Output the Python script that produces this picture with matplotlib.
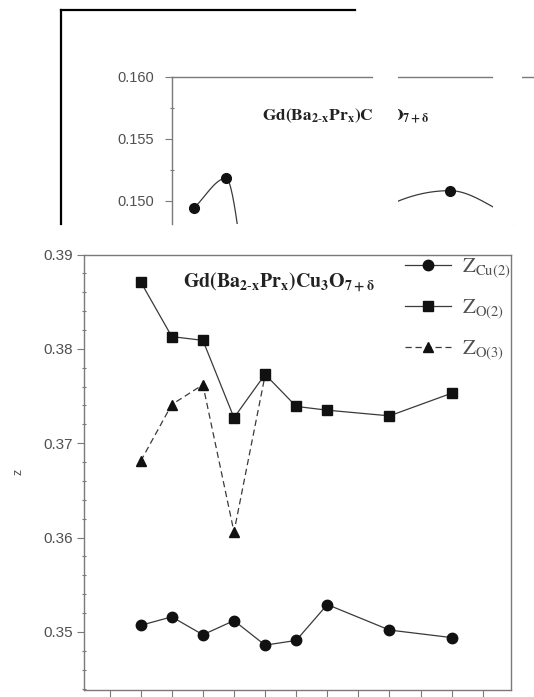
import numpy as np
import matplotlib
matplotlib.use("Agg")
from matplotlib import pyplot as plt
from matplotlib.lines import Line2D
from matplotlib.patches import Rectangle
from matplotlib.ticker import MultipleLocator

plt.rcParams['font.family'] = ['Liberation Sans', 'DejaVu Sans']
plt.rcParams['mathtext.fontset'] = 'stix'

# composition x values
x_pr = [0.0, 0.1, 0.2, 0.3, 0.4, 0.5, 0.6, 0.8, 1.0]

# main panel: z coordinates
z_cu2 = [0.3507, 0.3516, 0.3497, 0.3512, 0.3486, 0.3491, 0.3529, 0.3502, 0.3494]
z_o2 = [0.3871, 0.3813, 0.3809, 0.3727, 0.3773, 0.3739, 0.3735, 0.3729, 0.3753]
x_o3 = [0.0, 0.1, 0.2, 0.3, 0.4]
z_o3 = [0.3681, 0.3741, 0.3762, 0.3606, 0.3772]

# upper (partly covered) panel
z_upper = [0.1494, 0.1518, 0.1380, 0.1365, 0.1370, 0.1420, 0.1495, 0.1508, 0.1486]
upper_ticks = [0.150, 0.155, 0.160]
main_ticks = [0.35, 0.36, 0.37, 0.38, 0.39]

title = r'$\mathbf{Gd(Ba_{2\text{-}x}Pr_x)Cu_3O_{7+\delta}}$'
labels = [r'$\mathrm{Z_{Cu(2)}}$', r'$\mathrm{Z_{O(2)}}$', r'$\mathrm{Z_{O(3)}}$']

W, H = 534, 697
spine_c = '#7a7a7a'
text_c = '#505050'
mark_c = '#111111'
line_c = '#3a3a3a'


def box(left, top, right, bottom):  # pixel box -> figure fraction rect
    return [left / W, 1 - bottom / H, (right - left) / W, (bottom - top) / H]


def pchip(x, y, xs):  # monotone cubic through the points
    x = np.asarray(x, float)
    y = np.asarray(y, float)
    h = np.diff(x)
    d = np.diff(y) / h
    m = np.zeros_like(y)
    for k in range(1, len(x) - 1):
        if d[k - 1] * d[k] > 0:
            w1 = 2 * h[k] + h[k - 1]
            w2 = h[k] + 2 * h[k - 1]
            m[k] = (w1 + w2) / (w1 / d[k - 1] + w2 / d[k])
    m[0], m[-1] = d[0], d[-1]
    i = np.clip(np.searchsorted(x, xs) - 1, 0, len(h) - 1)
    t = (xs - x[i]) / h[i]
    return (y[i] * (1 - 3 * t**2 + 2 * t**3) + h[i] * m[i] * (t - 2 * t**2 + t**3)
            + y[i + 1] * (3 * t**2 - 2 * t**3) + h[i] * m[i + 1] * (t**3 - t**2))


def style_axes(ax, fs):
    for s in ax.spines.values():
        s.set_color(spine_c)
        s.set_linewidth(1.0)
    ax.tick_params(which='both', colors=spine_c, labelcolor=text_c, labelsize=fs, width=0.8)
    ax.tick_params(which='major', length=5, direction='out', pad=3)
    ax.tick_params(which='minor', length=3, direction='inout')


fig = plt.figure(figsize=(W / 100, H / 100), dpi=100)

# upper panel
up = fig.add_axes(box(172, 77, 534, 224))
xs = np.linspace(0, 1.0, 400)
up.plot(xs, pchip(x_pr, z_upper, xs), color=line_c, lw=0.9)
up.plot(x_pr, z_upper, 'o', color=mark_c, ms=7, clip_on=True)
up.set_xlim(-0.06875, 1.0625)
up.set_ylim(0.1481, 0.160)
up.set_yticks(upper_ticks)
up.set_yticklabels(['%.3f' % v for v in upper_ticks])
up.yaxis.set_minor_locator(MultipleLocator(0.0025))
up.set_xticks([])
up.spines['right'].set_visible(False)
up.spines['bottom'].set_visible(False)
style_axes(up, 10.5)
up.tick_params(which='major', pad=8)
fig.text(262 / W, 1 - 116 / H, title, fontsize=12.5, ha='left', va='center', color='#222222')

# main panel
ax = fig.add_axes(box(84, 254.5, 511, 689.5))
ax.plot(x_o3, z_o3, color=line_c, lw=0.9, ls=(0, (5, 3)), marker='^', ms=7,
        mfc=mark_c, mec=mark_c, label=labels[2], zorder=2)
ax.plot(x_pr, z_o2, color=line_c, lw=0.9, marker='s', ms=6.5,
        mfc=mark_c, mec=mark_c, label=labels[1], zorder=3)
ax.plot(x_pr, z_cu2, color=line_c, lw=0.9, marker='o', ms=7.5,
        mfc=mark_c, mec=mark_c, label=labels[0], zorder=4)
ax.set_xlim(-0.1823, 1.1907)
ax.set_ylim(0.3439, 0.39)
ax.set_yticks(main_ticks)
ax.set_yticklabels(['%.2f' % v for v in main_ticks])
ax.yaxis.set_minor_locator(MultipleLocator(0.002))
ax.set_xticks(np.arange(-0.1, 1.15, 0.1))
ax.set_xticklabels([])
style_axes(ax, 11)
ax.text(183 / W, 1 - 282 / H, title, transform=fig.transFigure, fontsize=14.3,
        ha='left', va='center', color='#222222')
handles, labs = ax.get_legend_handles_labels()
ax.legend(handles[::-1], labs[::-1], loc='upper left', bbox_to_anchor=(405 / W, 1 - 256 / H),
          bbox_transform=fig.transFigure, frameon=False, fontsize=15, handlelength=2.2,
          handletextpad=0.55, labelspacing=0.85, borderpad=0, borderaxespad=0,
          labelcolor=text_c)
fig.text(18 / W, 1 - 472 / H, 'z', rotation=90, fontsize=9, color=text_c,
         ha='center', va='center')

# scan border lines and blank strips over the upper panel
fig.add_artist(Line2D([61 / W, 61 / W], [1 - 10 / H, 1 - 224 / H], color='black', lw=1.6))
fig.add_artist(Line2D([61 / W, 355 / W], [1 - 10 / H, 1 - 10 / H], color='black', lw=1.6))
for x0, x1 in [(373, 398), (493, 522)]:
    fig.add_artist(Rectangle((x0 / W, 1 - 224 / H), (x1 - x0) / W, 224 / H,
                             transform=fig.transFigure, facecolor='white',
                             edgecolor='none', zorder=10))

fig.savefig('out.png', dpi=100)
